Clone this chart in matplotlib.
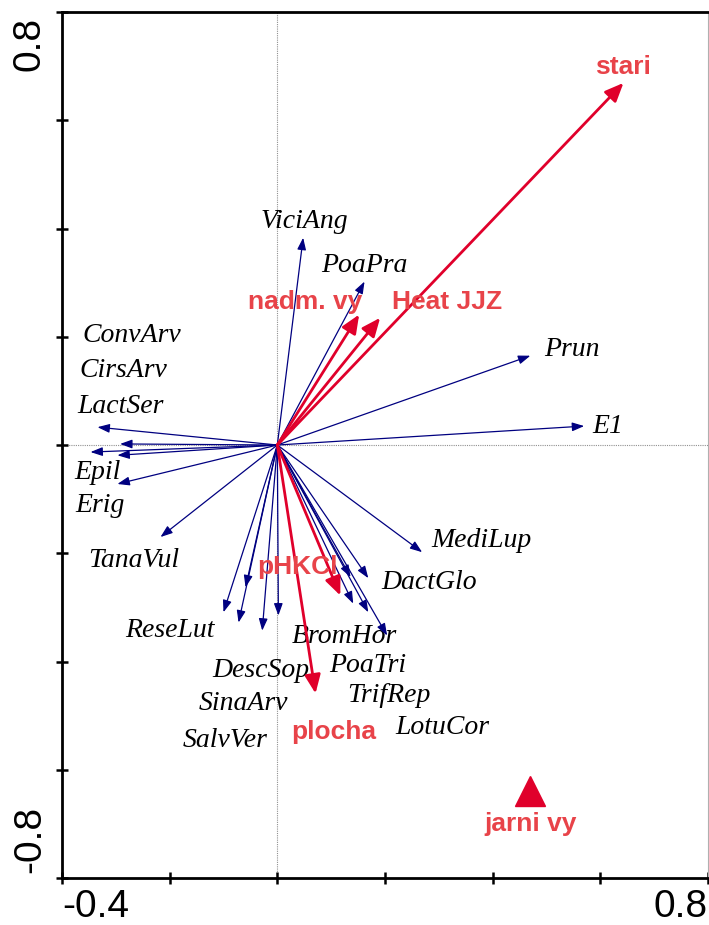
import matplotlib
matplotlib.use("Agg")
import matplotlib.pyplot as plt

# species scores (arrow tips)
species = ["ViciAng", "PoaPra", "Prun", "E1",
           "ConvArv", "CirsArv", "LactSer", "Epil", "Erig", "TanaVul",
           "ReseLut", "DescSop", "SinaArv", "SalvVer", "",
           "DactGlo", "BromHor", "PoaTri", "TrifRep", "LotuCor", "MediLup"]
sp_x = [0.048, 0.162, 0.470, 0.570,
        -0.334, -0.292, -0.347, -0.297, -0.297, -0.217,
        -0.100, -0.059, -0.072, -0.028, 0.002,
        0.136, 0.169, 0.141, 0.169, 0.204, 0.269]
sp_y = [0.383, 0.302, 0.165, 0.035,
        0.033, 0.002, -0.013, -0.019, -0.072, -0.170,
        -0.309, -0.263, -0.328, -0.343, -0.315,
        -0.244, -0.246, -0.293, -0.309, -0.352, -0.198]
sp_lab_x = [0.050, 0.162, 0.548, 0.613,
            -0.271, -0.286, -0.292, -0.334, -0.329, -0.266,
            -0.199, -0.030, -0.063, -0.097, 0.0,
            0.282, 0.124, 0.167, 0.208, 0.307, 0.379]
sp_lab_y = [0.413, 0.331, 0.176, 0.035,
            0.202, 0.137, 0.072, -0.050, -0.111, -0.213,
            -0.343, -0.417, -0.478, -0.546, 0.0,
            -0.254, -0.354, -0.407, -0.463, -0.522, -0.176]

# environmental variables
env = ["stari", "Heat JJZ", "nadm. vy", "pHKCl", "plocha"]
env_x = [0.643, 0.191, 0.152, 0.117, 0.071]
env_y = [0.669, 0.235, 0.241, -0.278, -0.459]
env_lab_x = [0.643, 0.316, 0.052, 0.037, 0.104]
env_lab_y = [0.698, 0.265, 0.265, -0.226, -0.530]

# nominal variable (centroid)
nom = "jarni vy"
nom_x = 0.470
nom_y = -0.639
nom_lab_y = -0.700

navy = "#000080"
red = "#E0002B"
red_txt = "#E84349"

fig = plt.figure(figsize=(7.09, 9.25), dpi=100)
ax = fig.add_axes([0.0874, 0.0508, 0.9112, 0.9362])
ax.set_xlim(-0.4, 0.8)
ax.set_ylim(-0.8, 0.8)

ax.axhline(0, color="#909090", lw=0.8, ls=(0, (1, 1)), zorder=0)
ax.axvline(0, color="#909090", lw=0.8, ls=(0, (1, 1)), zorder=0)

for name, x, y, lx, ly in zip(species, sp_x, sp_y, sp_lab_x, sp_lab_y):
    ax.annotate("", xy=(x, y), xytext=(0, 0),
                arrowprops=dict(arrowstyle="-|>,head_length=0.6,head_width=0.22",
                                color=navy, lw=0.9, mutation_scale=12,
                                shrinkA=0, shrinkB=0))
    if name:
        ax.text(lx, ly, name, ha="center", va="center", fontsize=20,
                family="Liberation Serif", style="italic", color="black")

for name, x, y, lx, ly in zip(env, env_x, env_y, env_lab_x, env_lab_y):
    ax.annotate("", xy=(x, y), xytext=(0, 0),
                arrowprops=dict(arrowstyle="-|>,head_length=0.7,head_width=0.3",
                                color=red, lw=2.0, mutation_scale=16,
                                shrinkA=0, shrinkB=0), zorder=3)
    ax.text(lx, ly, name, ha="center", va="center", fontsize=19,
            family="Liberation Sans", weight="bold", color=red_txt, zorder=4)

ax.plot([nom_x], [nom_y], marker="^", ms=21, color=red, ls="none")
ax.text(nom_x, nom_lab_y, nom, ha="center", va="center", fontsize=19,
        family="Liberation Sans", weight="bold", color=red_txt)

# frame and ticks
for side in ["left", "bottom", "top"]:
    ax.spines[side].set_linewidth(2)
ax.spines["right"].set_color("#b0b0b0")
ax.spines["right"].set_linewidth(0.8)
ax.set_xticks([-0.4, -0.2, 0.0, 0.2, 0.4, 0.6, 0.8])
ax.set_yticks([-0.8, -0.6, -0.4, -0.2, 0.0, 0.2, 0.4, 0.6, 0.8])
ax.tick_params(direction="inout", length=8, width=1.8,
               labelbottom=False, labelleft=False)

tick_font = dict(fontsize=28, family="Liberation Sans", color="black")
ax.text(0.0, -0.013, "-0.4", transform=ax.transAxes, ha="left", va="top", **tick_font)
ax.text(1.0, -0.013, "0.8", transform=ax.transAxes, ha="right", va="top", **tick_font)
ax.text(-0.022, 0.994, "0.8", transform=ax.transAxes, rotation=90,
        ha="right", va="top", **tick_font)
ax.text(-0.022, 0.006, "-0.8", transform=ax.transAxes, rotation=90,
        ha="right", va="bottom", **tick_font)

fig.savefig("out.png", dpi=100)
